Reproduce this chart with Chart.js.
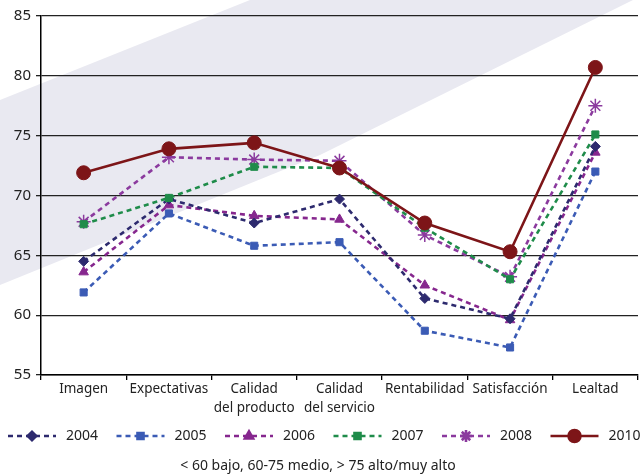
<!DOCTYPE html>
<html lang="es">
<head>
    <meta charset="UTF-8">
    <title>Índices 2004-2010</title>
    <script src="https://cdn.jsdelivr.net/npm/chart.js@4.4.1/dist/chart.umd.min.js"></script>
    <style>
        body {
            margin: 0;
            background-color: #ffffff;
        }
        #wrap {
            width: 640px;
            height: 474px;
        }
    </style>
</head>
<body>
    <div id="wrap"><canvas id="chart"></canvas></div>
    <script>
        const categories = ['Imagen', 'Expectativas', ['Calidad', 'del producto'], ['Calidad', 'del servicio'], 'Rentabilidad', 'Satisfacción', 'Lealtad'];
        const years = ['2004', '2005', '2006', '2007', '2008', '2010'];
        const v2004 = [64.5, 69.7, 67.7, 69.7, 61.4, 59.7, 74.1];
        const v2005 = [61.9, 68.5, 65.8, 66.1, 58.7, 57.3, 72.0];
        const v2006 = [63.6, 69.2, 68.3, 68.0, 62.5, 59.6, 73.6];
        const v2007 = [67.6, 69.8, 72.4, 72.3, 67.3, 63.0, 75.1];
        const v2008 = [67.8, 73.2, 73.0, 72.9, 66.7, 63.2, 77.5];
        const v2010 = [71.9, 73.9, 74.4, 72.3, 67.7, 65.3, 80.7];
        const yTicks = [55, 60, 65, 70, 75, 80, 85];
        const footnote = '< 60 bajo, 60-75 medio, > 75 alto/muy alto';

        const font = '"Noto Sans", sans-serif';

        function serie(label, data, color, style, radius, dashed, order) {
            return {
                label: label,
                data: data,
                borderColor: color,
                backgroundColor: color,
                pointBackgroundColor: color,
                pointBorderColor: color,
                pointStyle: style,
                pointRadius: radius,
                pointHoverRadius: radius,
                pointBorderWidth: style === 'star' ? 1.5 : 1,
                borderWidth: 2.6,
                borderDash: dashed ? [5, 4] : [],
                tension: 0,
                order: order
            };
        }

        const datasets = [
            serie(years[0], v2004, '#2d2a6e', 'rectRot', 5, true, 3),
            serie(years[1], v2005, '#3b5bb5', 'rect', 5, true, 6),
            serie(years[2], v2006, '#86278e', 'triangle', 5.5, true, 5),
            serie(years[3], v2007, '#1f8c4a', 'rect', 5, true, 2),
            serie(years[4], v2008, '#8b3a9e', 'star', 7, true, 4),
            serie(years[5], v2010, '#7d1518', 'circle', 7, false, 1)
        ];

        // diagonal band behind the plot
        const fondo = {
            id: 'fondo',
            beforeDraw(chart) {
                const ctx = chart.ctx;
                ctx.save();
                ctx.fillStyle = '#e9e9f1';
                ctx.beginPath();
                ctx.moveTo(0, 100);
                ctx.lineTo(250, 0);
                ctx.lineTo(633, 0);
                ctx.lineTo(320, 155);
                ctx.lineTo(0, 285);
                ctx.closePath();
                ctx.fill();
                ctx.restore();
            }
        };

        // legend row + footnote under the axis
        const leyenda = {
            id: 'leyenda',
            afterDraw(chart) {
                const ctx = chart.ctx;
                chart.data.datasets.forEach((ds, i) => {
                    const x = 8 + i * 108.5;
                    const y = 436;
                    ctx.save();
                    ctx.strokeStyle = ds.borderColor;
                    ctx.fillStyle = ds.borderColor;
                    ctx.lineWidth = ds.borderWidth;
                    ctx.setLineDash(ds.borderDash);
                    ctx.beginPath();
                    ctx.moveTo(x, y);
                    ctx.lineTo(x + 48, y);
                    ctx.stroke();
                    ctx.setLineDash([]);
                    Chart.helpers.drawPoint(ctx, {
                        pointStyle: ds.pointStyle,
                        radius: ds.pointRadius * 0.85,
                        borderWidth: ds.pointBorderWidth,
                        rotation: 0
                    }, x + 24, y);
                    ctx.fillStyle = '#222';
                    ctx.font = '14px ' + font;
                    ctx.textBaseline = 'middle';
                    ctx.textAlign = 'left';
                    ctx.fillText(ds.label, x + 58, y);
                    ctx.restore();
                });
                ctx.save();
                ctx.fillStyle = '#222';
                ctx.font = '14px ' + font;
                ctx.textAlign = 'center';
                ctx.textBaseline = 'middle';
                ctx.fillText(footnote, 318, 466);
                ctx.restore();
            }
        };

        new Chart(document.getElementById('chart').getContext('2d'), {
            type: 'line',
            data: {
                labels: categories,
                datasets: datasets
            },
            options: {
                responsive: true,
                maintainAspectRatio: false,
                animation: false,
                layout: {
                    autoPadding: false,
                    padding: { top: 16, right: 2, bottom: 57, left: 0 }
                },
                plugins: {
                    legend: { display: false },
                    tooltip: { enabled: false }
                },
                scales: {
                    x: {
                        offset: true,
                        afterFit: (s) => {
                            s.height = 42;
                            s.paddingLeft = 0;
                            s.paddingRight = 0;
                        },
                        grid: {
                            offset: true,
                            drawOnChartArea: false,
                            drawTicks: true,
                            tickLength: 5,
                            tickColor: '#000',
                            lineWidth: 1.3
                        },
                        border: { display: true, color: '#000', width: 1.5 },
                        ticks: {
                            color: '#222',
                            font: { family: font, size: 13.5, lineHeight: 1.4 },
                            padding: 0,
                            maxRotation: 0,
                            autoSkip: false
                        }
                    },
                    y: {
                        min: yTicks[0],
                        max: yTicks[yTicks.length - 1],
                        afterFit: (s) => {
                            s.width = 41;
                            s.paddingTop = 0;
                            s.paddingBottom = 0;
                        },
                        afterBuildTicks: (s) => { s.ticks = yTicks.map(v => ({ value: v })); },
                        grid: {
                            color: '#222',
                            lineWidth: 1.3,
                            tickLength: 5,
                            tickColor: '#222'
                        },
                        border: { display: true, color: '#000', width: 1.5 },
                        ticks: {
                            color: '#222',
                            font: { family: font, size: 15 },
                            padding: 5
                        }
                    }
                }
            },
            plugins: [fondo, leyenda]
        });
    </script>
</body>
</html>
